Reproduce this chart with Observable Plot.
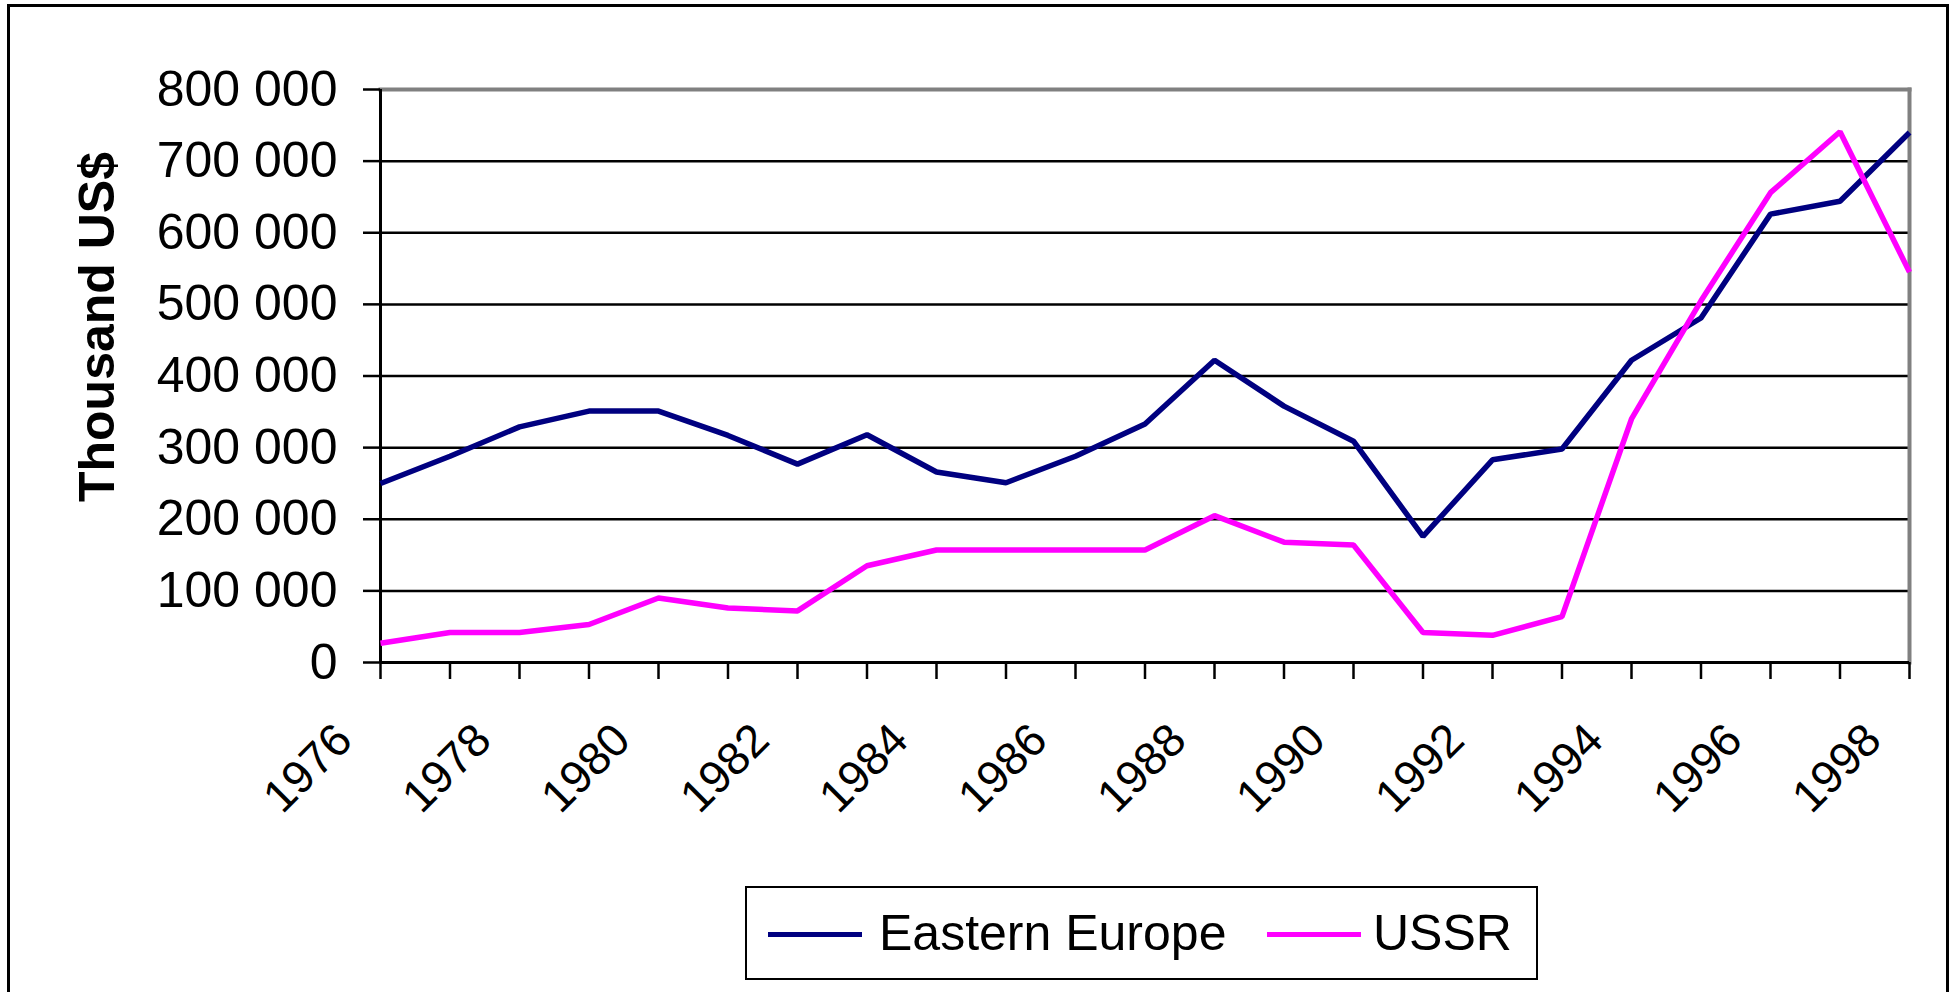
<!DOCTYPE html>
<html>
<head>
<meta charset="utf-8">
<script src="https://cdn.jsdelivr.net/npm/d3@7"></script>
<script src="https://cdn.jsdelivr.net/npm/@observablehq/plot@0.6"></script>
<style>
  html, body { margin: 0; padding: 0; background: #fff; overflow: hidden; width: 1955px; height: 992px; }
  body { font-family: "Liberation Sans", Arial, sans-serif; position: relative; }
  #outer { position: absolute; left: 7px; top: 4px; width: 1942px; height: 1100px; border: 3px solid #000; box-sizing: border-box; pointer-events: none; }
  #chart svg { display: block; }
  #legend { position: absolute; left: 745px; top: 886px; width: 793px; height: 94px; border: 2px solid #000; box-sizing: border-box; background: #fff; }
  #legend .sw { position: absolute; top: 44px; height: 5px; }
  #legend .lb { position: absolute; top: 20px; font-size: 50px; line-height: 50px; color: #000; white-space: nowrap; }
</style>
</head>
<body>
<div id="chart"></div>
<div id="legend"></div>
<div id="outer"></div>
<script>
const years = d3.range(1976, 1999);
const labelYears = [1976, 1978, 1980, 1982, 1984, 1986, 1988, 1990, 1992, 1994, 1996, 1998];
const seriesNames = ["Eastern Europe", "USSR"];
const seriesColors = ["#000080", "#FF00FF"];
const easternEurope = [250000, 288000, 329000, 351000, 351000, 317000, 277000, 318000, 266000, 251000, 288000, 333000, 422000, 358000, 309000, 176000, 283000, 298000, 422000, 481000, 626000, 644000, 740000];
const ussr = [27000, 42000, 42000, 53000, 90000, 76000, 72000, 135000, 157000, 157000, 157000, 157000, 205000, 168000, 164000, 42000, 38000, 64000, 340000, 505000, 656000, 741000, 545000];
const yTicks = [0, 100000, 200000, 300000, 400000, 500000, 600000, 700000, 800000];
const gridValues = [100000, 200000, 300000, 400000, 500000, 600000, 700000];
const yTitle = "Thousand US$";

const rows = [];
years.forEach((yr, i) => {
  rows.push({year: yr, value: easternEurope[i], series: seriesNames[0]});
  rows.push({year: yr, value: ussr[i], series: seriesNames[1]});
});

const fmt = d3.formatLocale({decimal: ".", thousands: " ", grouping: [3], currency: ["", ""]}).format(",");
const font = "'Liberation Sans', Arial, sans-serif";

const chart = Plot.plot({
  width: 1955,
  height: 880,
  marginLeft: 380,
  marginRight: 46,
  marginTop: 89,
  marginBottom: 218,
  style: {fontFamily: font, color: "#000", background: "transparent"},
  x: {type: "linear", domain: [1976, 1998], axis: null},
  y: {domain: [0, 800000], axis: null},
  color: {domain: seriesNames, range: seriesColors},
  marks: [
    Plot.ruleY(gridValues, {stroke: "#000", strokeWidth: 2.5}),
    Plot.frame({anchor: "top", stroke: "#808080", strokeWidth: 4}),
    Plot.frame({anchor: "right", stroke: "#808080", strokeWidth: 4}),
    Plot.axisY({ticks: yTicks, tickSize: 17, tickPadding: 26, tickFormat: fmt, fontSize: 50, strokeWidth: 2.5, label: null}),
    Plot.axisX({ticks: years, tickSize: 17, tickFormat: () => "", strokeWidth: 2.5, label: null}),
    Plot.ruleX([1976], {stroke: "#000", strokeWidth: 3}),
    Plot.ruleY([0], {stroke: "#000", strokeWidth: 3}),
    Plot.line(rows, {x: "year", y: "value", z: "series", stroke: "series", strokeWidth: 5.5, strokeLinejoin: "miter", strokeLinecap: "butt"}),
    Plot.text(labelYears, {x: d => d, text: d => String(d), frameAnchor: "bottom", rotate: -45, textAnchor: "end", lineAnchor: "top", dx: -49, dy: 57, fontSize: 46, fill: "#000"}),
    Plot.text([yTitle], {frameAnchor: "left", textAnchor: "middle", lineAnchor: "middle", rotate: -90, dx: -283, dy: -49, fontSize: 50, fontWeight: "bold", fill: "#000"})
  ]
});
document.getElementById("chart").appendChild(chart);

const legend = document.getElementById("legend");
const items = [
  {sw: 21, tx: 132},
  {sw: 520, tx: 626}
];
seriesNames.forEach((name, i) => {
  const sw = document.createElement("div");
  sw.className = "sw";
  sw.style.left = items[i].sw + "px";
  sw.style.width = "94px";
  sw.style.background = seriesColors[i];
  legend.appendChild(sw);
  const lb = document.createElement("div");
  lb.className = "lb";
  lb.style.left = items[i].tx + "px";
  lb.textContent = name;
  legend.appendChild(lb);
});
</script>
</body>
</html>
